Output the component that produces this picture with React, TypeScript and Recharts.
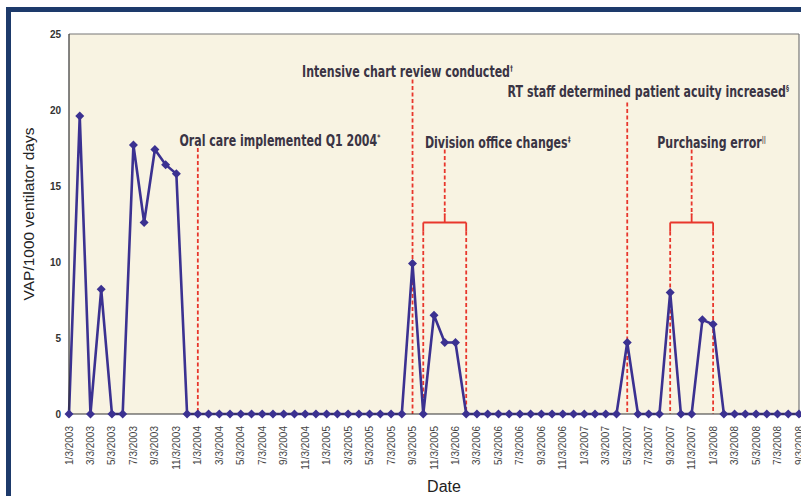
import React from "react";
import {
  LineChart,
  Line,
  XAxis,
  YAxis,
  CartesianGrid,
  ReferenceLine,
} from "recharts";

const months = [
  "1/3/2003", "2/3/2003", "3/3/2003", "4/3/2003", "5/3/2003", "6/3/2003",
  "7/3/2003", "8/3/2003", "9/3/2003", "10/3/2003", "11/3/2003", "12/3/2003",
  "1/3/2004", "2/3/2004", "3/3/2004", "4/3/2004", "5/3/2004", "6/3/2004",
  "7/3/2004", "8/3/2004", "9/3/2004", "10/3/2004", "11/3/2004", "12/3/2004",
  "1/3/2005", "2/3/2005", "3/3/2005", "4/3/2005", "5/3/2005", "6/3/2005",
  "7/3/2005", "8/3/2005", "9/3/2005", "10/3/2005", "11/3/2005", "12/3/2005",
  "1/3/2006", "2/3/2006", "3/3/2006", "4/3/2006", "5/3/2006", "6/3/2006",
  "7/3/2006", "8/3/2006", "9/3/2006", "10/3/2006", "11/3/2006", "12/3/2006",
  "1/3/2007", "2/3/2007", "3/3/2007", "4/3/2007", "5/3/2007", "6/3/2007",
  "7/3/2007", "8/3/2007", "9/3/2007", "10/3/2007", "11/3/2007", "12/3/2007",
  "1/3/2008", "2/3/2008", "3/3/2008", "4/3/2008", "5/3/2008", "6/3/2008",
  "7/3/2008", "8/3/2008", "9/3/2008",
];

const vapRate = [
  0, 19.6, 0, 8.2, 0, 0, 17.7, 12.6, 17.4, 16.4, 15.8, 0,
  0, 0, 0, 0, 0, 0, 0, 0, 0, 0, 0, 0,
  0, 0, 0, 0, 0, 0, 0, 0, 9.9, 0, 6.5, 4.7,
  4.7, 0, 0, 0, 0, 0, 0, 0, 0, 0, 0, 0,
  0, 0, 0, 0, 4.7, 0, 0, 0, 8.0, 0, 0, 6.2,
  5.9, 0, 0, 0, 0, 0, 0, 0, 0,
];

const yTicks = [0, 5, 10, 15, 20, 25];

// single events: dashed line from top down to zero
const eventMonths = ["1/3/2004", "9/3/2005", "5/3/2007"];
const eventTops = [17.5, 22.0, 20.5];
const eventTexts = [
  "Oral care implemented Q1 2004",
  "Intensive chart review conducted",
  "RT staff determined patient acuity increased",
];
const eventMarks = ["*", "†", "§"];

// bracketed events
const bracketStems = ["12/3/2005", "11/3/2007"];
const bracketStarts = ["10/3/2005", "9/3/2007"];
const bracketEnds = ["2/3/2006", "1/3/2008"];
const bracketTop = 17.4;
const bracketBar = 12.6;
const bracketTexts = ["Division office changes", "Purchasing error"];
const bracketMarks = ["‡", "||"];

const eventLabelDx = [82, -5, 21];
const eventLabelDy = [-2, -3, -5];
const bracketLabelDx = [53, 20];

const data = months.map((m, i) => ({ month: m, rate: vapRate[i] }));

const RED = "#e8362c";
const NAVY = "#3b3191";
const LABEL_FONT = "'DejaVu Sans', sans-serif";
const AXIS_FONT = "'Liberation Sans', Arial, sans-serif";

const Diamond = (props: any) => {
  const { cx, cy, index } = props;
  if (cx == null || cy == null) return null;
  const r = 4.5;
  return (
    <path
      key={index}
      d={`M${cx},${cy - r} L${cx + r},${cy} L${cx},${cy + r} L${cx - r},${cy} Z`}
      fill={NAVY}
    />
  );
};

const DateTick = (props: any) => {
  const { x, y, payload } = props;
  return (
    <text
      transform={`translate(${x + 3.5},${y + 4}) rotate(-90)`}
      textAnchor="end"
      fontSize={10}
      fill="#444"
      fontFamily={AXIS_FONT}
    >
      {payload.value}
    </text>
  );
};

// condensed bold look: squeeze the installed bold sans horizontally
const makeLabel = (text: string, mark: string, dx: number, dy: number) => (props: any) => {
  const vb = props.viewBox || {};
  return (
    <text
      transform={`translate(${vb.x + dx},${vb.y + dy}) scale(0.735,1)`}
      textAnchor="middle"
      fontSize={15}
      fontWeight="bold"
      fill="#3a3444"
      fontFamily={LABEL_FONT}
    >
      {text}
      <tspan fontSize={8} dy={-6}>{mark}</tspan>
    </text>
  );
};

export default function App() {
  return (
    <div
      style={{
        position: "fixed",
        left: 0,
        top: 0,
        width: 801,
        height: 496,
        overflow: "hidden",
        background: "#fff",
      }}
    >
      <div
        style={{
          position: "absolute",
          left: 6,
          top: 7,
          width: 1000,
          height: 1000,
          borderLeft: "5px solid #1d3a6b",
          borderTop: "5px solid #1d3a6b",
        }}
      />
      <div style={{ position: "absolute", left: 0, top: 0 }}>
        <LineChart
          width={820}
          height={496}
          data={data}
          margin={{ top: 34, right: 21, left: 20, bottom: 0 }}
        >
          <CartesianGrid fill="#f8f3e2" horizontal={false} vertical={false} />
          <XAxis
            dataKey="month"
            interval={1}
            height={82}
            tickLine={false}
            axisLine={{ stroke: "#333", strokeWidth: 1.2 }}
            tick={<DateTick />}
            label={(p: any) => {
              const vb = p.viewBox || {};
              return (
                <text
                  x={vb.x + vb.width / 2 + 10}
                  y={492}
                  textAnchor="middle"
                  fontSize={16}
                  fill="#222"
                  fontFamily={AXIS_FONT}
                >
                  Date
                </text>
              );
            }}
          />
          <YAxis
            width={49}
            domain={[0, 25]}
            ticks={yTicks}
            tickLine={false}
            axisLine={{ stroke: "#333", strokeWidth: 1.2 }}
            tick={{ fontSize: 10, fill: "#333", fontFamily: AXIS_FONT, fontWeight: "bold" }}
            label={(p: any) => {
              const vb = p.viewBox || {};
              const cy = vb.y + vb.height / 2 - 10;
              return (
                <text
                  transform={`translate(34,${cy}) rotate(-90)`}
                  textAnchor="middle"
                  fontSize={15.5}
                  fill="#222"
                  fontFamily={AXIS_FONT}
                >
                  VAP/1000 ventilator days
                </text>
              );
            }}
          />
          <ReferenceLine y={25} stroke="#777" strokeWidth={1.2} />
          <ReferenceLine x={months[months.length - 1]} stroke="#777" strokeWidth={1.2} />

          {eventMonths.map((m, i) => (
            <ReferenceLine
              key={"ev" + i}
              segment={[
                { x: m, y: eventTops[i] },
                { x: m, y: 0 },
              ]}
              stroke={RED}
              strokeWidth={1.8}
              strokeDasharray="4 2.5"
              label={makeLabel(eventTexts[i], eventMarks[i], eventLabelDx[i], eventLabelDy[i])}
            />
          ))}

          {bracketStems.map((m, i) => (
            <ReferenceLine
              key={"bs" + i}
              segment={[
                { x: m, y: bracketTop },
                { x: m, y: bracketBar + 0.5 },
              ]}
              stroke={RED}
              strokeWidth={1.8}
              strokeDasharray="4 2.5"
              label={makeLabel(bracketTexts[i], bracketMarks[i], bracketLabelDx[i], -2)}
            />
          ))}
          {bracketStems.map((m, i) => (
            <ReferenceLine
              key={"bss" + i}
              segment={[
                { x: m, y: bracketBar + 0.6 },
                { x: m, y: bracketBar },
              ]}
              stroke={RED}
              strokeWidth={1.8}
            />
          ))}
          {bracketStems.map((m, i) => (
            <ReferenceLine
              key={"bb" + i}
              segment={[
                { x: bracketStarts[i], y: bracketBar },
                { x: bracketEnds[i], y: bracketBar },
              ]}
              stroke={RED}
              strokeWidth={1.8}
            />
          ))}
          {[...bracketStarts, ...bracketEnds].map((m, i) => (
            <ReferenceLine
              key={"bl" + i}
              segment={[
                { x: m, y: bracketBar },
                { x: m, y: bracketBar - 0.6 },
              ]}
              stroke={RED}
              strokeWidth={1.8}
            />
          ))}
          {[...bracketStarts, ...bracketEnds].map((m, i) => (
            <ReferenceLine
              key={"bd" + i}
              segment={[
                { x: m, y: bracketBar - 0.6 },
                { x: m, y: 0 },
              ]}
              stroke={RED}
              strokeWidth={1.8}
              strokeDasharray="4 2.5"
            />
          ))}

          <Line
            type="linear"
            dataKey="rate"
            stroke={NAVY}
            strokeWidth={2.6}
            dot={<Diamond />}
            activeDot={false}
            isAnimationActive={false}
          />
        </LineChart>
      </div>
    </div>
  );
}
